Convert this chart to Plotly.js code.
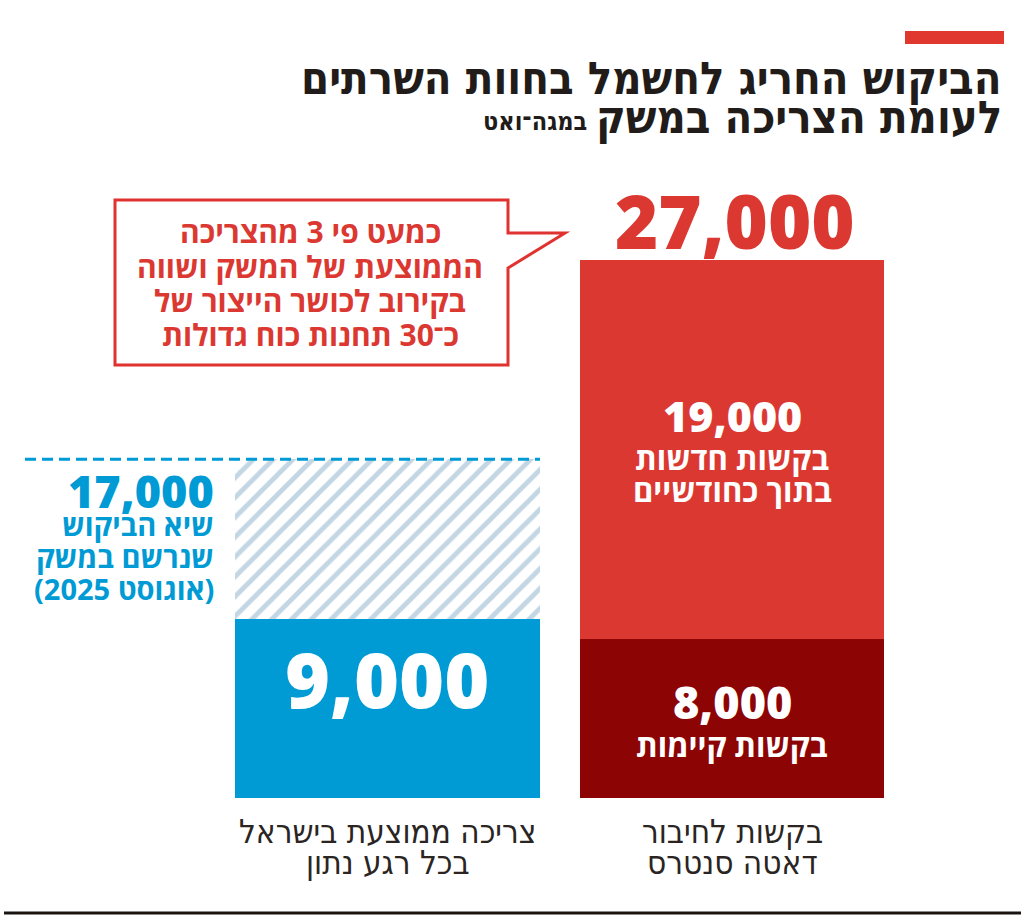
<!DOCTYPE html>
<html>
<head>
<meta charset="utf-8">
<script src="https://cdn.plot.ly/plotly-3.0.1.min.js"></script>
<style>html,body{margin:0;padding:0;background:#fff;}#chart{width:1024px;height:922px;}</style>
</head>
<body>
<div id="chart"></div>
<script>
// ---- data ----
const categories = ['צריכה ממוצעת בישראל', 'בקשות לחיבור דאטה סנטרס'];
const avgConsumption = [9000];      // average consumption at any moment
const peakDemand = [17000];         // record demand (August 2025)
const existingRequests = [8000];    // existing data-center requests
const newRequests = [19000];        // new requests within two months
const totalRequests = [existingRequests[0] + newRequests[0]];
const categoryLabels = [['צריכה ממוצעת בישראל', 'בכל רגע נתון'], ['בקשות לחיבור', 'דאטה סנטרס']];
const titleLine1 = 'הביקוש החריג לחשמל בחוות השרתים';
const titleLine2 = 'לעומת הצריכה במשק';
const titleUnit = 'במגה־ואט';
const calloutLines = ['כמעט פי 3 מהצריכה', 'הממוצעת של המשק ושווה', 'בקירוב לכושר הייצור של', 'כ־30 תחנות כוח גדולות'];
const peakLines = ['שיא הביקוש', 'שנרשם במשק', '(אוגוסט 2025)'];
const newLines = ['בקשות חדשות', 'בתוך כחודשיים'];
const existingLines = ['בקשות קיימות'];

// ---- helpers ----
const W = 1024, H = 922;
const px = x => x / W;
const py = y => 1 - y / H;
const fmt = v => v.toLocaleString('en-US');

const RED = '#dc3832', DARKRED = '#8c0404', BLUE = '#009ad5', HATCH = '#c3d6e4', INK = '#211c19';
const NUM = 'Open Sans, DejaVu Sans, sans-serif';
const HEB = 'Open Sans, DejaVu Sans, sans-serif';
const TITLE = 'DejaVu Sans Condensed, DejaVu Sans, sans-serif';

const barW = 0.885;
const traces = [
  {type: 'bar', x: [categories[0]], y: avgConsumption, width: [barW], marker: {color: BLUE, line: {width: 0}}},
  {type: 'bar', x: [categories[0]], y: [peakDemand[0] - avgConsumption[0]], width: [barW],
   marker: {color: '#ffffff', line: {width: 0}, pattern: {shape: '/', fgcolor: HATCH, bgcolor: '#ffffff', size: 14, solidity: 0.34}}},
  {type: 'bar', x: [categories[1]], y: existingRequests, width: [barW], marker: {color: DARKRED, line: {width: 0}}},
  {type: 'bar', x: [categories[1]], y: newRequests, width: [barW], marker: {color: RED, line: {width: 0}}}
];

function A(text, x, y, size, color, family, weight, xanchor) {
  return {text: text, xref: 'paper', yref: 'paper', x: px(x), y: py(y), xanchor: xanchor || 'center', yanchor: 'middle',
    showarrow: false, font: {size: size, color: color, family: family, weight: weight}};
}

const ann = [];
// title
ann.push(A(titleLine1, 1004, 78, 45, INK, TITLE, 700, 'right'));
ann.push(A(titleLine2, 1004, 118, 45, INK, TITLE, 700, 'right'));
ann.push(A(titleUnit, 589, 122, 25, INK, TITLE, 700, 'right'));
// total
ann.push(A(fmt(totalRequests[0]), 735, 221, 74, RED, NUM, 800));
// callout
calloutLines.forEach((t, i) => ann.push(A(t, 310, 232 + i * 34, 30, RED, HEB, 700)));
// blue bar value
ann.push(A(fmt(avgConsumption[0]), 387, 678, 77, '#ffffff', NUM, 800));
// peak
ann.push(A(fmt(peakDemand[0]), 216, 490, 45, BLUE, NUM, 800, 'right'));
peakLines.forEach((t, i) => ann.push(A(t, 216, 524 + i * 32, 29, BLUE, HEB, 700, 'right')));
// new requests
ann.push(A(fmt(newRequests[0]), 732, 415, 43, '#ffffff', NUM, 800));
newLines.forEach((t, i) => ann.push(A(t, 732, 458 + i * 32, 31, '#ffffff', HEB, 700)));
// existing
ann.push(A(fmt(existingRequests[0]), 732, 701, 45, '#ffffff', NUM, 800));
existingLines.forEach((t, i) => ann.push(A(t, 732, 745 + i * 32, 31, '#ffffff', HEB, 700)));
// category labels
categoryLabels.forEach((lines, c) => lines.forEach((t, i) => {
  ann.push({text: t, xref: 'x', yref: 'paper', x: categories[c], y: py(831 + i * 31), xanchor: 'center', yanchor: 'middle',
    showarrow: false, font: {size: 33, color: '#2a2522', family: TITLE, weight: 400}});
}));

const boxPath = 'M ' + px(508) + ' ' + py(233) + ' L ' + px(508) + ' ' + py(200) + ' L ' + px(115) + ' ' + py(200) +
  ' L ' + px(115) + ' ' + py(365) + ' L ' + px(508) + ' ' + py(365) + ' L ' + px(508) + ' ' + py(268) +
  ' L ' + px(565) + ' ' + py(233) + ' Z';

const shapes = [
  // accent bar above title
  {type: 'rect', xref: 'paper', yref: 'paper', x0: px(905), x1: px(1004), y0: py(31), y1: py(44), fillcolor: '#e0372f', line: {width: 0}},
  // peak dashed line
  {type: 'line', xref: 'paper', yref: 'y', x0: px(25), x1: px(540), y0: peakDemand[0], y1: peakDemand[0],
   line: {color: BLUE, width: 3, dash: '11px,6px'}},
  // callout box
  {type: 'path', xref: 'paper', yref: 'paper', path: boxPath, fillcolor: 'rgba(255,255,255,0)', line: {color: '#e0332f', width: 3}},
  // bottom rule
  {type: 'line', xref: 'paper', yref: 'paper', x0: px(4), x1: px(1021), y0: py(913), y1: py(913), line: {color: '#1a1410', width: 3}}
];

const layout = {
  width: W, height: H,
  margin: {l: 0, r: 0, t: 0, b: 0},
  paper_bgcolor: '#ffffff', plot_bgcolor: '#ffffff',
  barmode: 'stack', bargap: 0,
  showlegend: false,
  xaxis: {type: 'category', range: [-1.1248, 1.8476], visible: false, fixedrange: true},
  yaxis: {range: [-6223, 40048], visible: false, fixedrange: true},
  annotations: ann,
  shapes: shapes
};

Plotly.newPlot('chart', traces, layout, {displayModeBar: false, staticPlot: true});
</script>
</body>
</html>
